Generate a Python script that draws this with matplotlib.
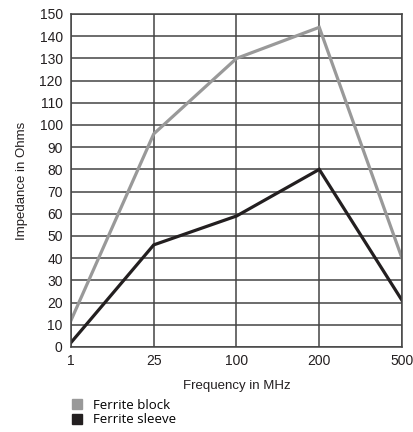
import matplotlib
matplotlib.use("Agg")
import matplotlib.pyplot as plt
from matplotlib.patches import Patch

# Impedance vs frequency for two ferrite parts
freq_labels = ["1", "25", "100", "200", "500"]
ferrite_block = [12, 96, 130, 144, 40]
ferrite_sleeve = [2, 46, 59, 80, 21]

plt.rcParams["font.family"] = ["Liberation Sans", "DejaVu Sans"]

fig = plt.figure(figsize=(4.14, 4.32), dpi=100)
ax = fig.add_axes([71 / 414, 1 - 347 / 432, 331 / 414, 333 / 432])

x = range(len(freq_labels))
ax.plot(x, ferrite_block, color="#999999", lw=2.3, solid_joinstyle="miter")
ax.plot(x, ferrite_sleeve, color="#231f20", lw=2.3, solid_joinstyle="miter")

ax.set_xlim(0, len(freq_labels) - 1)
ax.set_ylim(0, 150)
ax.set_xticks(list(x))
ax.set_xticklabels(freq_labels)
ax.set_yticks(range(0, 151, 10))
ax.tick_params(length=0, labelsize=10, colors="#231f20", pad=6)
ax.tick_params(axis="x", pad=5)
ax.grid(True, color="#444444", lw=1.1)
ax.set_axisbelow(True)
for s in ax.spines.values():
    s.set_color("#444444")
    s.set_linewidth(1.1)

ax.set_xlabel("Frequency in MHz", fontsize=9.5, color="#231f20", labelpad=9)
ax.set_ylabel("Impedance in Ohms", fontsize=9.5, color="#231f20", labelpad=8)

handles = [Patch(color="#999999", label="Ferrite block"),
           Patch(color="#231f20", label="Ferrite sleeve")]
fig.legend(handles=handles, loc="lower left", bbox_to_anchor=(0.145, -0.014),
           frameon=False, handlelength=0.8, handleheight=0.8,
           handletextpad=0.8, labelspacing=0.1,
           prop={"family": ["Open Sans", "DejaVu Sans"], "size": 9.5})

fig.savefig("out.png", dpi=100)
